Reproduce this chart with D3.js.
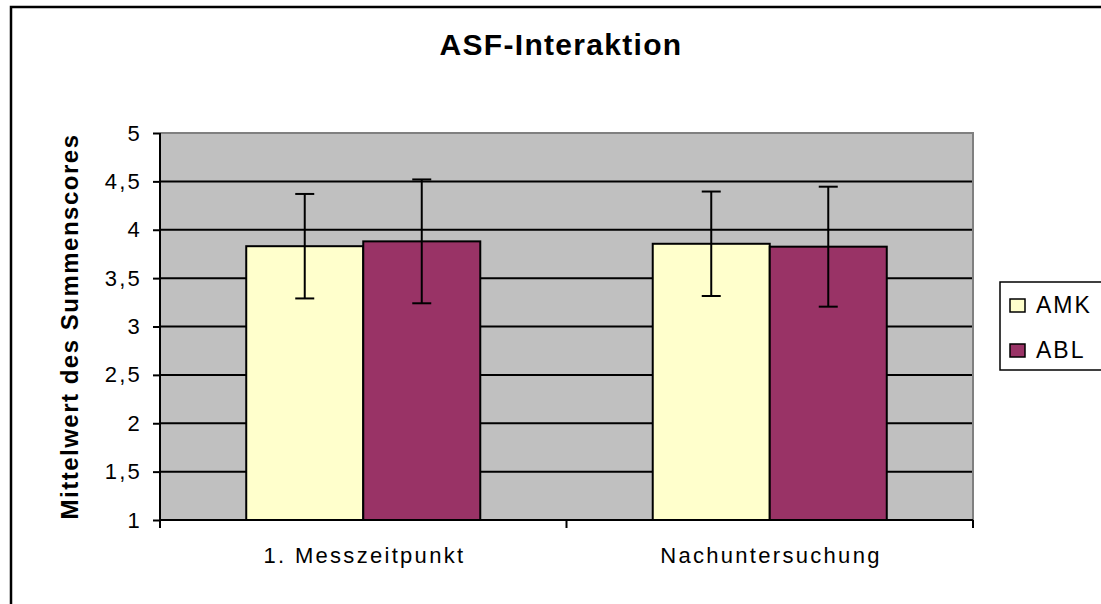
<!DOCTYPE html>
<html>
<head>
<meta charset="utf-8">
<script src="https://cdn.jsdelivr.net/npm/d3@7"></script>
<style>
  body { margin: 0; background: #fff; }
  svg { font-family: "Liberation Sans", Arial, sans-serif; }
  .axis text { font-size: 22px; fill: #000; }
  .axis path, .axis line { stroke: #000; stroke-width: 2px; }
</style>
</head>
<body>
<svg class="asf" width="1101" height="604"></svg>
<script>
const categories = ["1. Messzeitpunkt", "Nachuntersuchung"];
const series = ["AMK", "ABL"];
const colors = ["#FFFFCC", "#993366"];
const means = [[3.83, 3.88], [3.855, 3.825]];
const errors = [[0.54, 0.64], [0.54, 0.62]];
const yTicks = [1, 1.5, 2, 2.5, 3, 3.5, 4, 4.5, 5];

function drawChart() {
    const svg = d3.select("svg.asf");
    const margin = { top: 133, right: 128, bottom: 84, left: 160 };
    const width = +svg.attr("width") - margin.left - margin.right;
    const height = +svg.attr("height") - margin.top - margin.bottom;

    // outer chart frame (runs off the right/bottom edge)
    svg.append("rect")
        .attr("x", 11).attr("y", 7)
        .attr("width", 1120).attr("height", 640)
        .attr("fill", "none")
        .attr("stroke", "#000")
        .attr("stroke-width", 2.5);

    svg.append("text")
        .attr("x", 561).attr("y", 55)
        .attr("text-anchor", "middle")
        .attr("font-size", 30)
        .attr("font-weight", "bold")
        .attr("letter-spacing", 1.3)
        .text("ASF-Interaktion");

    const y = d3.scaleLinear().domain([1, 5]).range([height, 0]);
    const x0 = d3.scaleBand().domain(categories).range([0, width]);
    const x1 = d3.scaleBand().domain(series)
        .range([0, x0.bandwidth()])
        .paddingInner(0)
        .paddingOuter(0.737);

    const g = svg.append("g")
        .attr("transform", `translate(${margin.left}, ${margin.top})`);

    g.append("rect")
        .attr("width", width).attr("height", height)
        .attr("fill", "#C0C0C0");

    g.selectAll(".grid")
        .data(yTicks.filter(t => t > 1 && t < 5))
        .enter().append("line")
        .attr("x1", 0).attr("x2", width)
        .attr("y1", d => y(d)).attr("y2", d => y(d))
        .attr("stroke", "#000")
        .attr("stroke-width", 2);

    // plot area border (top/right grey)
    g.append("path")
        .attr("d", `M0,${y(5)}H${width}V${height}`)
        .attr("fill", "none")
        .attr("stroke", "#808080")
        .attr("stroke-width", 2);

    const groups = g.selectAll(".group")
        .data(categories)
        .enter().append("g")
        .attr("transform", d => `translate(${x0(d)}, 0)`);

    groups.selectAll(".bar")
        .data((d, i) => series.map((s, j) => ({ s, j, v: means[i][j], e: errors[i][j] })))
        .enter().append("rect")
        .attr("class", "bar")
        .attr("x", d => x1(d.s))
        .attr("y", d => y(d.v))
        .attr("width", x1.bandwidth())
        .attr("height", d => y(1) - y(d.v))
        .attr("fill", d => colors[d.j])
        .attr("stroke", "#000")
        .attr("stroke-width", 2);

    const err = groups.selectAll(".err")
        .data((d, i) => series.map((s, j) => ({ s, v: means[i][j], e: errors[i][j] })))
        .enter().append("g")
        .attr("transform", d => `translate(${x1(d.s) + x1.bandwidth() / 2}, 0)`)
        .attr("stroke", "#000")
        .attr("stroke-width", 2);
    err.append("line")
        .attr("y1", d => y(d.v + d.e)).attr("y2", d => y(d.v - d.e));
    err.append("line")
        .attr("x1", -9.5).attr("x2", 9.5)
        .attr("y1", d => y(d.v + d.e)).attr("y2", d => y(d.v + d.e));
    err.append("line")
        .attr("x1", -9.5).attr("x2", 9.5)
        .attr("y1", d => y(d.v - d.e)).attr("y2", d => y(d.v - d.e));

    const yAxis = d3.axisLeft(y)
        .tickValues(yTicks)
        .tickSize(7)
        .tickPadding(11)
        .tickFormat(d => String(d).replace(".", ","));
    const ya = g.append("g").attr("class", "y axis").call(yAxis)
        .call(a => a.select(".domain").attr("d", `M0,0V${height + 8}`));
    ya.selectAll("text").attr("letter-spacing", 2.2);

    const xAxis = d3.axisBottom(x0).tickSize(0).tickPadding(27);
    const xa = g.append("g").attr("class", "x axis")
        .attr("transform", `translate(0, ${height})`)
        .call(xAxis);
    xa.selectAll("text")
        .attr("font-size", 23)
        .attr("letter-spacing", 2.3)
        .attr("dx", 1.2);
    xa.select(".domain").attr("d", `M0,0H${width}`);
    xa.selectAll(".sep")
        .data([0, x0.step(), width])
        .enter().append("line")
        .attr("x1", d => d).attr("x2", d => d)
        .attr("y1", 0).attr("y2", 8);

    svg.append("text")
        .attr("transform", `translate(78, ${margin.top + height / 2}) rotate(-90)`)
        .attr("text-anchor", "middle")
        .attr("font-size", 24)
        .attr("font-weight", "bold")
        .attr("letter-spacing", 1.5)
        .text("Mittelwert des Summenscores");

    // legend
    const legend = svg.append("g").attr("transform", "translate(1000, 282)");
    legend.append("rect")
        .attr("width", 120).attr("height", 88)
        .attr("fill", "#fff")
        .attr("stroke", "#000")
        .attr("stroke-width", 1.5);
    const items = legend.selectAll(".item")
        .data(series)
        .enter().append("g")
        .attr("transform", (d, i) => `translate(10, ${17 + i * 45})`);
    items.append("rect")
        .attr("width", 15).attr("height", 13)
        .attr("fill", (d, i) => colors[i])
        .attr("stroke", "#000")
        .attr("stroke-width", 1.5);
    items.append("text")
        .attr("x", 26).attr("y", 14)
        .attr("font-size", 23)
        .attr("letter-spacing", 2)
        .text(d => d);
}

drawChart();
</script>
</body>
</html>
